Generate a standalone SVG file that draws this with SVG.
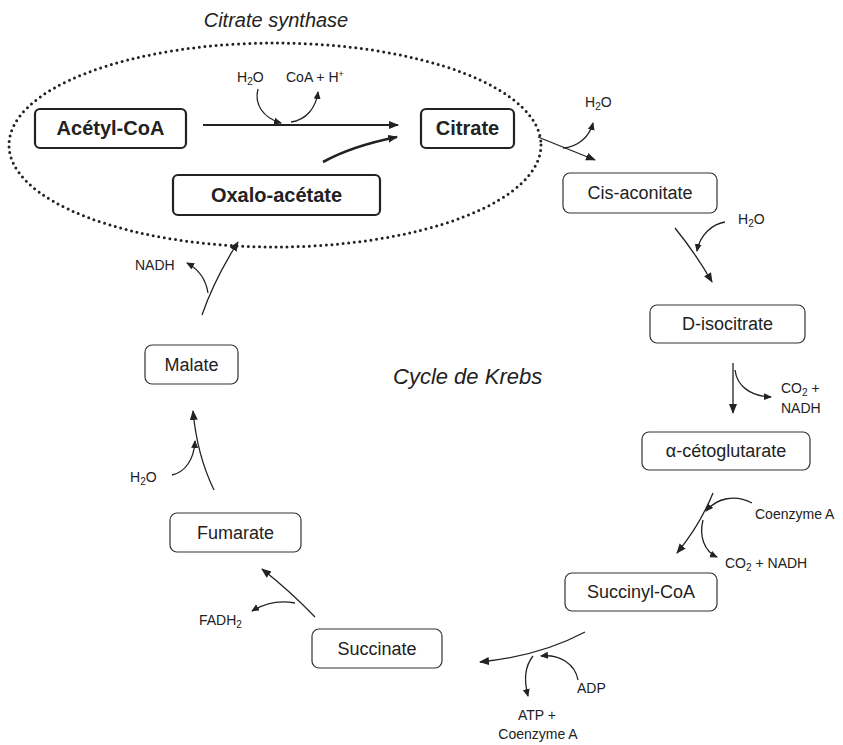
<svg xmlns="http://www.w3.org/2000/svg" width="843" height="745" viewBox="0 0 843 745">
<defs>
<marker id="ah" markerUnits="userSpaceOnUse" markerWidth="12" markerHeight="10" refX="9" refY="4" orient="auto">
<path d="M0,0 L10,4 L0,8 Z" fill="#222"/>
</marker>
<marker id="ahs" markerUnits="userSpaceOnUse" markerWidth="10" markerHeight="8" refX="7" refY="3.5" orient="auto">
<path d="M0,0 L8,3.5 L0,7 Z" fill="#222"/>
</marker>
<style>
text{font-family:"Liberation Sans",Arial,sans-serif;fill:#222}
.title{font-size:20px;font-style:italic;text-anchor:middle}
.krebs{font-size:22px;font-style:italic}
.bold rect{fill:#fff;stroke:#222;stroke-width:2.2}
.bold text{font-size:20px;font-weight:bold;text-anchor:middle}
.thin rect{fill:#fff;stroke:#333;stroke-width:1.2}
.thin text{font-size:18px;text-anchor:middle}
.lbl{font-size:14px}
.conn path{fill:none;stroke:#222;stroke-width:1.3}
.conn .main{marker-end:url(#ah)}
.conn .side{marker-end:url(#ahs)}
</style>
</defs>
<rect width="843" height="745" fill="#fff"/>
<text class="title" x="276" y="27">Citrate synthase</text>
<ellipse cx="275" cy="145" rx="266" ry="102" fill="none" stroke="#222" stroke-width="3" stroke-dasharray="0 5.6" stroke-linecap="round"/>
<text class="krebs" x="393" y="384">Cycle de Krebs</text>

<g id="acetylcoa" class="bold"><rect x="35" y="109" width="151" height="39" rx="5"/><text x="110.5" y="135">Acétyl-CoA</text></g>
<g id="citrate" class="bold"><rect x="421" y="109" width="93" height="39" rx="5"/><text x="467.5" y="135">Citrate</text></g>
<g id="oxaloacetate" class="bold"><rect x="173" y="175" width="207" height="40" rx="5"/><text x="276.5" y="202">Oxalo-acétate</text></g>
<g id="cisaconitate" class="thin"><rect x="563" y="173" width="154" height="40" rx="7"/><text x="640" y="199">Cis-aconitate</text></g>
<g id="disocitrate" class="thin"><rect x="650" y="305" width="155" height="38" rx="7"/><text x="727.5" y="330">D-isocitrate</text></g>
<g id="cetoglutarate" class="thin"><rect x="642" y="432" width="168" height="38" rx="7"/><text x="726" y="457">α-cétoglutarate</text></g>
<g id="succinylcoa" class="thin"><rect x="565" y="573" width="152" height="38" rx="7"/><text x="641" y="598">Succinyl-CoA</text></g>
<g id="succinate" class="thin"><rect x="312" y="629" width="130" height="39" rx="7"/><text x="377" y="655">Succinate</text></g>
<g id="fumarate" class="thin"><rect x="170" y="513" width="131" height="39" rx="7"/><text x="235.5" y="539">Fumarate</text></g>
<g id="malate" class="thin"><rect x="145" y="345" width="93" height="39" rx="7"/><text x="191.5" y="371">Malate</text></g>

<g id="connectors" class="conn">
<path class="main" d="M203,125 L398,125" style="stroke-width:2"/>
<path class="side" d="M258,89 C254,104 263,118 281,123"/>
<path class="side" d="M291,122 C306,120 316,108 318,92"/>
<path class="main" d="M323,162 Q352,146 397,137" style="stroke-width:2.6"/>
<path class="main" d="M538,137 L595,160"/>
<path class="side" d="M563,148 C577,147 589,138 593,123"/>
<path class="main" d="M675,228 Q696,254 712,282"/>
<path class="side" d="M725,222 C712,224 700,235 697,251"/>
<path class="main" d="M733,363 L733,413"/>
<path class="side" d="M735,370 C737,386 750,396 771,397"/>
<path class="main" d="M713,493 Q700,525 677,553"/>
<path class="side" d="M752,503 C735,494 717,498 706,511"/>
<path class="side" d="M703,520 C699,536 704,551 717,557"/>
<path class="main" d="M585,632 Q540,656 480,662"/>
<path class="side" d="M578,680 C575,664 560,654 541,656"/>
<path class="side" d="M533,656 C525,666 524,681 528,696"/>
<path class="main" d="M315,617 Q290,591 262,569"/>
<path class="side" d="M295,603 C280,600 265,603 252,611"/>
<path class="main" d="M214,490 Q197,455 193,411"/>
<path class="side" d="M172,475 C185,472 194,460 195,441"/>
<path class="main" d="M202,315 Q214,280 238,242"/>
<path class="side" d="M208,293 C206,280 200,270 187,263"/>
</g>

<g id="labels" class="lbl">
<text class="lbl" x="237" y="82">H<tspan font-size="10" dy="3">2</tspan><tspan dy="-3">O</tspan></text>
<text class="lbl" x="286" y="82">CoA + H<tspan font-size="9" dy="-5">+</tspan></text>
<text class="lbl" x="585" y="107">H<tspan font-size="10" dy="3">2</tspan><tspan dy="-3">O</tspan></text>
<text class="lbl" x="738" y="224">H<tspan font-size="10" dy="3">2</tspan><tspan dy="-3">O</tspan></text>
<text class="lbl" x="781" y="393">CO<tspan font-size="10" dy="3">2</tspan><tspan dy="-3"> +</tspan></text>
<text class="lbl" x="781" y="413">NADH</text>
<text class="lbl" x="755" y="519">Coenzyme A</text>
<text class="lbl" x="725" y="568">CO<tspan font-size="10" dy="3">2</tspan><tspan dy="-3"> + NADH</tspan></text>
<text class="lbl" x="577" y="693">ADP</text>
<text class="lbl" x="537" y="720" text-anchor="middle">ATP +</text>
<text class="lbl" x="538" y="739" text-anchor="middle">Coenzyme A</text>
<text class="lbl" x="199" y="625">FADH<tspan font-size="10" dy="3">2</tspan></text>
<text class="lbl" x="130" y="482">H<tspan font-size="10" dy="3">2</tspan><tspan dy="-3">O</tspan></text>
<text class="lbl" x="135" y="270">NADH</text>
</g>
</svg>
